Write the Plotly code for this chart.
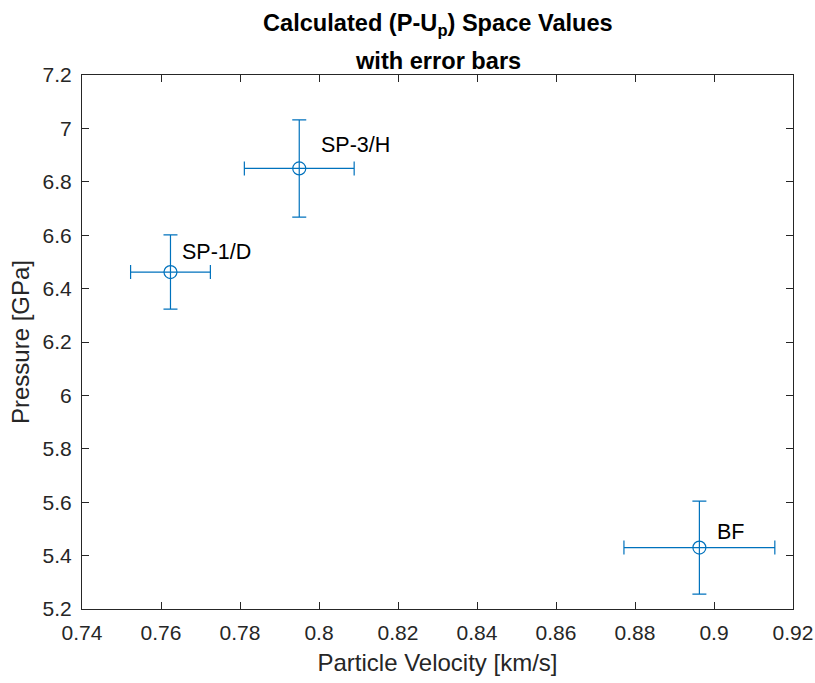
import plotly.graph_objects as go

# Data
labels = ["SP-1/D", "SP-3/H", "BF"]
velocity = [0.7624, 0.7950, 0.8963]        # km/s
pressure = [6.462, 6.850, 5.430]           # GPa
velocity_err = [0.0101, 0.0139, 0.0191]
pressure_err = [0.139, 0.182, 0.174]
label_x = [0.7648, 0.8000, 0.9003]
label_y = [6.538, 6.938, 5.490]

x_ticks = [0.74, 0.76, 0.78, 0.80, 0.82, 0.84, 0.86, 0.88, 0.90, 0.92]
x_ticktext = ["0.74", "0.76", "0.78", "0.8", "0.82", "0.84", "0.86", "0.88", "0.9", "0.92"]
y_ticks = [5.2, 5.4, 5.6, 5.8, 6.0, 6.2, 6.4, 6.6, 6.8, 7.0, 7.2]
y_ticktext = ["5.2", "5.4", "5.6", "5.8", "6", "6.2", "6.4", "6.6", "6.8", "7", "7.2"]

BLUE = "#0072BD"
AX = "#262626"
FONT = "Liberation Sans, Arial, Helvetica, sans-serif"

fig = go.Figure()
fig.add_trace(go.Scatter(
    x=velocity, y=pressure, mode="markers",
    marker=dict(symbol="circle-open", size=13, color=BLUE, line=dict(width=1.2, color=BLUE)),
    error_x=dict(type="data", array=velocity_err, visible=True, color=BLUE, thickness=1.2, width=7),
    error_y=dict(type="data", array=pressure_err, visible=True, color=BLUE, thickness=1.2, width=7),
    showlegend=False,
))

for t, lx, ly in zip(labels, label_x, label_y):
    fig.add_annotation(x=lx, y=ly, text=t, showarrow=False, xanchor="left", yanchor="middle",
                       font=dict(family=FONT, size=21.5, color="#000000"))

fig.add_annotation(xref="paper", yref="paper", x=0.5, y=1.093, text="<b>Calculated (P-U<sub>p</sub>) Space Values</b>",
                   showarrow=False, xanchor="center", yanchor="middle",
                   font=dict(family=FONT, size=23.6, color="#000000"))
fig.add_annotation(xref="paper", yref="paper", x=0.5, y=1.027, text="<b>with error bars</b>",
                   showarrow=False, xanchor="center", yanchor="middle",
                   font=dict(family=FONT, size=23.6, color="#000000"))

axis_common = dict(showgrid=False, zeroline=False, showline=True, mirror="ticks",
                   linecolor=AX, linewidth=1, ticks="inside", ticklen=7, tickcolor=AX, tickwidth=1,
                   tickfont=dict(family=FONT, size=21, color=AX), ticklabelstandoff=5,
                   automargin=False)

fig.update_xaxes(range=[0.74, 0.92], tickvals=x_ticks, ticktext=x_ticktext,
                 title=dict(text="Particle Velocity [km/s]", font=dict(family=FONT, size=24, color=AX), standoff=10),
                 **axis_common)
fig.update_yaxes(range=[5.2, 7.2], tickvals=y_ticks, ticktext=y_ticktext,
                 title=dict(text="Pressure [GPa]", font=dict(family=FONT, size=24, color=AX), standoff=6),
                 **axis_common)

fig.update_layout(width=815, height=683, margin=dict(l=82, r=22, t=75, b=74),
                  plot_bgcolor="white", paper_bgcolor="white")

fig.write_html("out.html")
